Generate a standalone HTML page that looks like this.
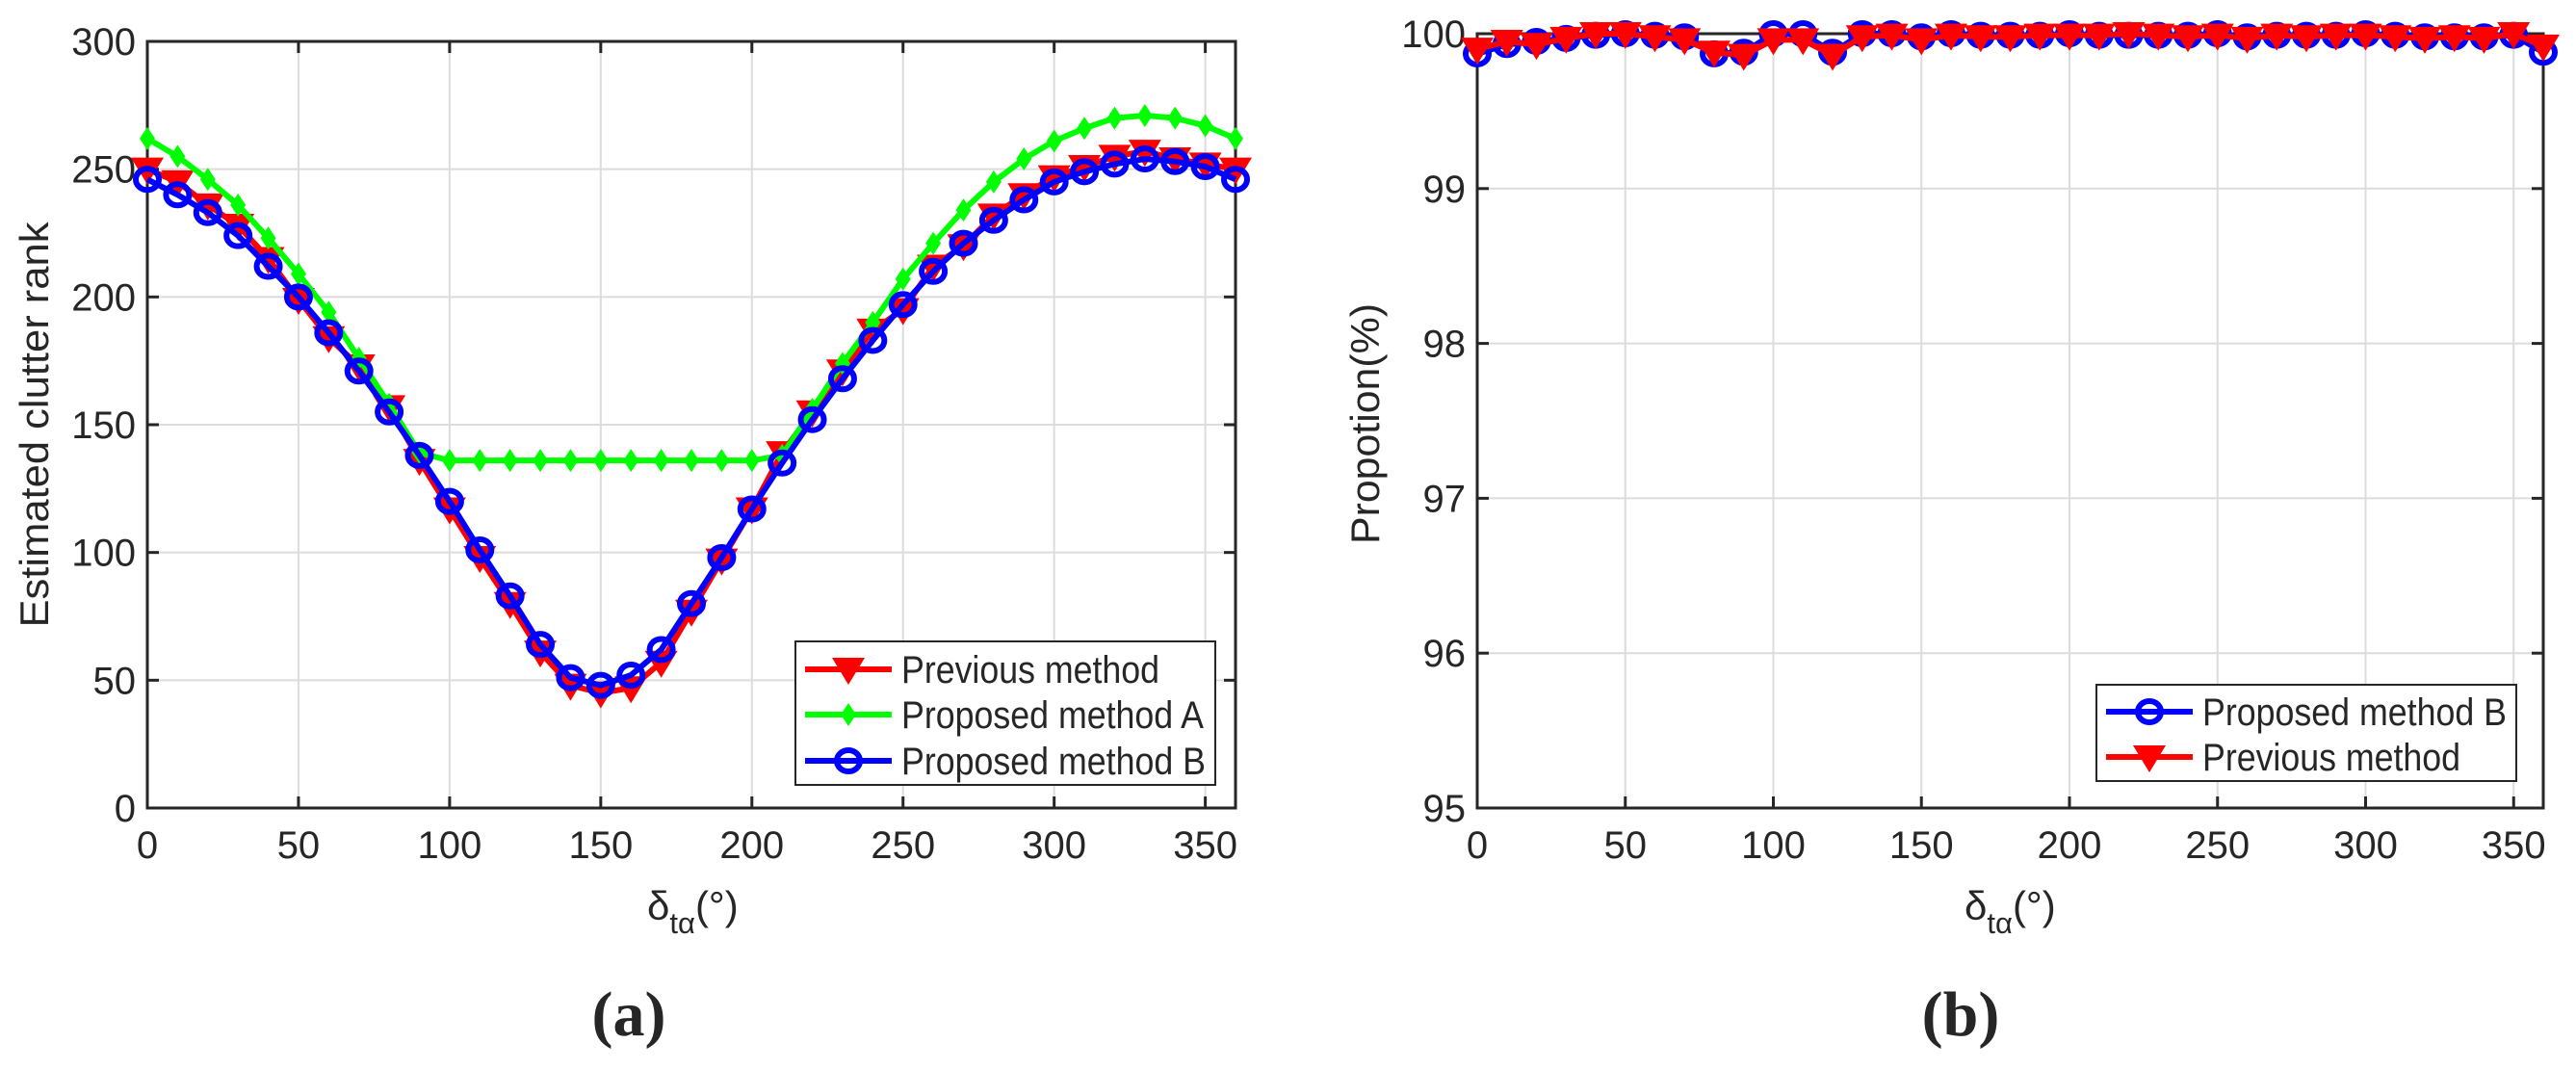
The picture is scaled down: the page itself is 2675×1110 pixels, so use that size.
<!DOCTYPE html>
<html><head><meta charset="utf-8"><style>
body{margin:0;background:#fff}
svg{display:block}
text{font-family:"Liberation Sans",Arial,sans-serif;fill:#262626}
</style></head><body>
<svg id="s" width="2675" height="1110" viewBox="0 0 2675 1110" xmlns="http://www.w3.org/2000/svg"></svg>
<script>
const xVals=[0,10,20,30,40,50,60,70,80,90,100,110,120,130,140,150,160,170,180,190,200,210,220,230,240,250,260,270,280,290,300,310,320,330,340,350,360];
const aPrev=[250,245,236,228,215,199,184,173,157,136,117,98,80,61,48,45,47,57,77,97,117,139,155,171,187,195,212,220,232,240,247,251,255,257,254,252,250];
const aPropA=[262,255,246,236,223,209,194,176,158,139,136,136,136,136,136,136,136,136,136,136,136,138,156,174,190,207,221,234,245,254,261,266,270,271,270,267,262];
const aPropB=[246,240,233,224,212,200,186,171,155,138,120,101,83,64,51,48,52,62,80,98,117,135,152,168,183,197,210,221,230,238,245,249,252,254,253,251,246];
const bPropB=[99.87,99.93,99.95,99.97,99.99,100,99.99,99.98,99.87,99.88,100,100,99.88,100,100,99.98,100,99.99,99.99,99.99,100,99.99,99.99,99.99,99.99,100,99.98,99.99,99.99,99.99,100,99.99,99.98,99.98,99.98,99.99,99.88];
const bPrev=[99.9,99.95,99.93,99.97,100,100,99.98,99.96,99.88,99.86,99.96,99.96,99.86,99.98,99.99,99.96,99.99,99.98,99.98,99.99,99.99,99.99,100,99.99,99.98,99.99,99.97,99.99,99.98,99.99,99.99,99.98,99.97,99.98,99.97,100,99.92];
const xTicks=[0,50,100,150,200,250,300,350];
const aYTicks=[0,50,100,150,200,250,300];
const bYTicks=[95,96,97,98,99,100];

const NS="http://www.w3.org/2000/svg";
const svg=document.getElementById('s');
function el(tag,attrs,parent,txt){const e=document.createElementNS(NS,tag);for(const k in attrs)e.setAttribute(k,attrs[k]);if(txt!==undefined)e.textContent=txt;(parent||svg).appendChild(e);return e;}

function axes(P){
  const g=el('g',{});
  
  
  const sx=v=>P.x0+(v-0)/360*(P.x1-P.x0);
  const sy=v=>P.y1-(v-P.ymin)/(P.ymax-P.ymin)*(P.y1-P.y0);
  xTicks.forEach(t=>{
    const l=el('line',{x1:sx(t),x2:sx(t),y1:P.y0,y2:P.y1,stroke:'#dcdcdc','stroke-width':2},g);
    
    el('line',{x1:sx(t),x2:sx(t),y1:P.y1,y2:P.y1-12,stroke:'#262626','stroke-width':3},g);
    el('line',{x1:sx(t),x2:sx(t),y1:P.y0,y2:P.y0+12,stroke:'#262626','stroke-width':3},g);
    const tx=el('text',{x:sx(t),y:P.y1+52,'text-anchor':'middle','font-size':40},g,String(t));
    
  });
  P.yt.forEach(t=>{
    const l=el('line',{x1:P.x0,x2:P.x1,y1:sy(t),y2:sy(t),stroke:'#dcdcdc','stroke-width':2},g);
    
    el('line',{x1:P.x0,x2:P.x0+12,y1:sy(t),y2:sy(t),stroke:'#262626','stroke-width':3},g);
    el('line',{x1:P.x1,x2:P.x1-12,y1:sy(t),y2:sy(t),stroke:'#262626','stroke-width':3},g);
    const tx=el('text',{x:P.x0-12,y:sy(t)+14,'text-anchor':'end','font-size':40},g,String(t));
    
  });
  const b=el('rect',{x:P.x0,y:P.y0,width:P.x1-P.x0,height:P.y1-P.y0,fill:'none',stroke:'#262626','stroke-width':3},g);
  
  return {sx,sy};
}
function marker(type,x,y,color,g){
  if(type==='tri') return el('polygon',{points:`${x-17},${y-12} ${x+17},${y-12} ${x},${y+16}`,fill:color},g);
  if(type==='dia') return el('polygon',{points:`${x},${y-12} ${x+8},${y} ${x},${y+12} ${x-8},${y}`,fill:color},g);
  return el('ellipse',{cx:x,cy:y,rx:12,ry:11,fill:'none',stroke:color,'stroke-width':6},g);
}
function series(name,vals,color,type,S){
  const g=el('g',{});
  
  
  const pts=vals.map((v,i)=>S.sx(xVals[i])+','+S.sy(v)).join(' ');
  el('polyline',{points:pts,fill:'none',stroke:color,'stroke-width':6,'stroke-linejoin':'round'},g);
  vals.forEach((v,i)=>{const m=marker(type,S.sx(xVals[i]),S.sy(v),color,g);
    });
}
function legend(name,x,y,w,h,items){
  const g=el('g',{});
  
  
  el('rect',{x:x,y:y,width:w,height:h,fill:'#fff',stroke:'#262626','stroke-width':2},g);
  items.forEach(it=>{
    const e=el('g',{},g);
    
    
    el('line',{x1:x+10,x2:x+100,y1:it.y,y2:it.y,stroke:it.c,'stroke-width':6},e);
    marker(it.m,x+55,it.y,it.c,e);
    el('text',{x:x+110,y:it.y+14,'font-size':40,textLength:it.tl,lengthAdjust:'spacingAndGlyphs'},e,it.t);
  });
}
const A=axes({name:'plot-a',x0:153,x1:1283,y0:43,y1:839,ymin:0,ymax:300,yt:aYTicks});
series('previous-method-a',aPrev,'#ff0000','tri',A);
series('proposed-method-a',aPropA,'#00ff00','dia',A);
series('proposed-method-b-a',aPropB,'#0000ff','circ',A);
legend('legend-a',826,666,436,149,[{y:695,c:'#ff0000',m:'tri',t:'Previous method',tl:268},{y:742,c:'#00ff00',m:'dia',t:'Proposed method A',tl:314},{y:790,c:'#0000ff',m:'circ',t:'Proposed method B',tl:316}]);
const B=axes({name:'plot-b',x0:1534,x1:2641,y0:35,y1:839,ymin:95,ymax:100,yt:bYTicks});
series('proposed-method-b-b',bPropB,'#0000ff','circ',B);
series('previous-method-b',bPrev,'#ff0000','tri',B);
legend('legend-b',2177,711,436,100,[{y:739,c:'#0000ff',m:'circ',t:'Proposed method B',tl:316},{y:786,c:'#ff0000',m:'tri',t:'Previous method',tl:268}]);

function lab(name,x,y,size,txt,rot,extra){
  const t=el('text',Object.assign({x:x,y:y,'text-anchor':'middle','font-size':size},extra||{}),svg,txt);
  if(rot)t.setAttribute('transform',`rotate(-90 ${x} ${y})`);
  return t;
}
lab('y-axis-title-a',50,441,42,'Estimated clutter rank',true,{textLength:421,lengthAdjust:'spacingAndGlyphs'});
lab('y-axis-title-b',1432,440,42,'Propotion(%)',true,{textLength:250,lengthAdjust:'spacingAndGlyphs'});
function xlab(name,cx){
  const t=el('text',{x:cx-48,y:955,'font-size':42});
  
  t.appendChild(document.createTextNode('δ'));
  el('tspan',{dy:14,'font-size':31},t,'tα');
  el('tspan',{dy:-14,'font-size':42},t,'(°)');
}
xlab('x-axis-title-a',720);
xlab('x-axis-title-b',2088);
lab('panel-label-a',653,1075,66,'(a)',false,{style:'font-family:"Liberation Serif",serif;font-weight:bold'});
lab('panel-label-b',2036,1075,66,'(b)',false,{style:'font-family:"Liberation Serif",serif;font-weight:bold'});
</script>
</body></html>
